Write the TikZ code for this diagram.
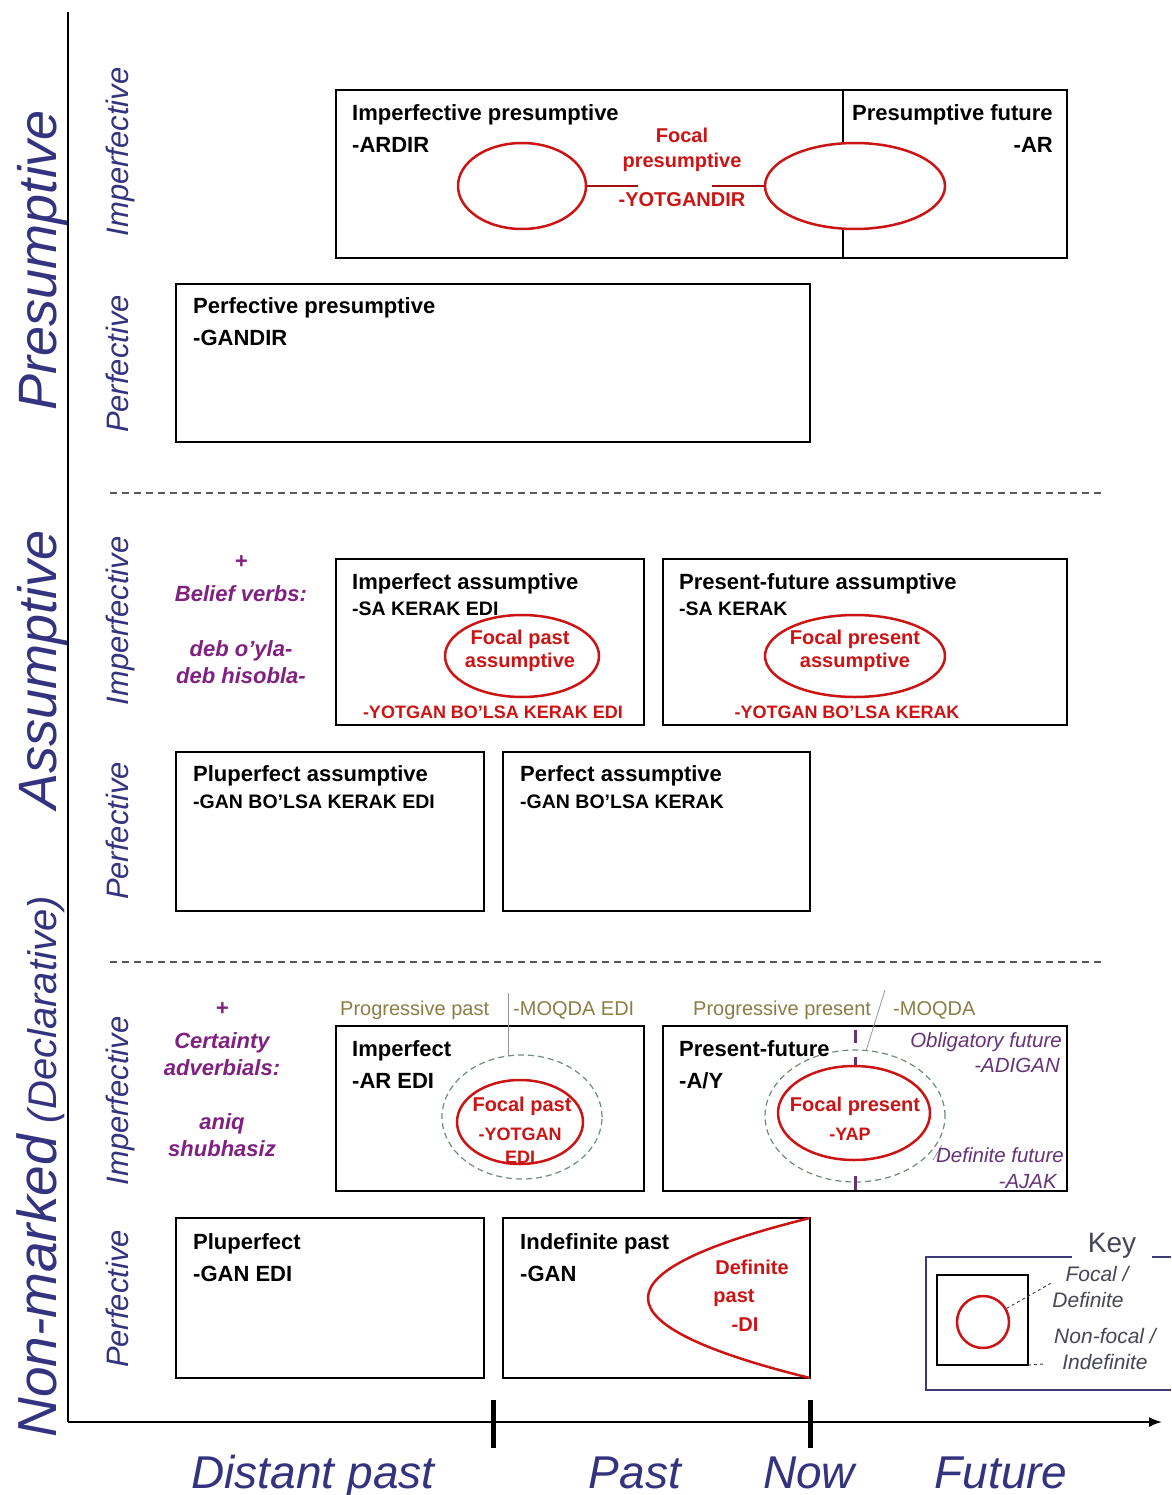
\documentclass[tikz,border=0pt]{standalone}
\usepackage{fontspec}
\setmainfont{Liberation Sans}
\usetikzlibrary{shapes.geometric,arrows.meta}
\definecolor{navy}{RGB}{51,51,128}
\definecolor{myred}{RGB}{204,20,20}
\definecolor{annpurple}{RGB}{128,32,128}
\definecolor{olivetxt}{RGB}{140,125,70}
\definecolor{pitcol}{RGB}{102,51,119}
\definecolor{greendash}{RGB}{110,140,120}
\definecolor{keyblue}{RGB}{60,60,120}
\definecolor{keygray}{RGB}{70,70,85}
\definecolor{leadgray}{RGB}{150,150,150}
\newcommand\myfs[1]{\fontsize{#1}{#1}\selectfont}
\begin{document}
\begin{tikzpicture}[x=1pt,y=-1pt,
  box/.style={draw, line width=1.5pt, inner sep=0, outer sep=0, anchor=north west},
  ttl/.style={anchor=base west, inner sep=0, font=\bfseries\myfs{22}},
  sfx/.style={anchor=base west, inner sep=0, font=\bfseries\myfs{19.5}},
  rtxt/.style={anchor=base, inner sep=0, text=myred, font=\bfseries\myfs{20}},
  rsfx/.style={anchor=base, inner sep=0, text=myred, font=\bfseries\myfs{18}},
  foc/.style={ellipse, draw=myred, line width=2.5pt, fill=white, inner sep=0},
  nfoc/.style={ellipse, draw=greendash, dashed, dash pattern=on 6pt off 4pt, line width=1.2pt, inner sep=0},
  ann/.style={anchor=base, inner sep=0, text=annpurple, font=\bfseries\itshape\myfs{22}},
  oliv/.style={anchor=base west, inner sep=0, text=olivetxt, font=\myfs{20}},
  pit/.style={anchor=base east, inner sep=0, text=pitcol, font=\itshape\myfs{20.5}},
  asp/.style={anchor=base, inner sep=0, rotate=90, text=navy, font=\itshape\myfs{31}},
  big/.style={anchor=base, inner sep=0, rotate=90, text=navy, font=\itshape\myfs{54}},
  timel/.style={anchor=base, inner sep=0, text=navy, font=\itshape\myfs{46}},
  keyt/.style={anchor=base, inner sep=0, text=keygray, font=\itshape\myfs{21}},
  leader/.style={draw=leadgray, line width=0.8pt},
  sepline/.style={draw=gray!70!black, line width=1.2pt, dash pattern=on 7pt off 5pt}
]
\useasboundingbox[fill=white] (0,0) rectangle (1171,1495);

% axes
\coordinate (ytop) at (68,12);
\coordinate (orig) at (68,1422);
\coordinate (xend) at (1162,1422);
\draw[line width=2pt] (ytop) -- (orig);
\draw[line width=2pt, -{Latex[length=13pt,width=10pt]}] (orig) -- (xend);
\coordinate (t1a) at (493,1400); \coordinate (t1b) at (493,1448);
\coordinate (t2a) at (810,1400); \coordinate (t2b) at (810,1448);
\draw[line width=5pt] (t1a) -- (t1b);
\draw[line width=5pt] (t2a) -- (t2b);

% separators
\coordinate (s1a) at (110,493); \coordinate (s1b) at (1105,493);
\coordinate (s2a) at (110,962); \coordinate (s2b) at (1105,962);
\draw[sepline] (s1a) -- (s1b);
\draw[sepline] (s2a) -- (s2b);

% big labels
\node[big] (lpres) at (56,260) {Presumptive};
\node[big] (lass) at (56,670) {Assumptive};
\node[anchor=base, inner sep=0, rotate=90, text=navy, font=\itshape] (lnon) at (56,1167) {{\myfs{55}Non-marked}\hspace{12pt}{\myfs{40}(Declarative)}};

\node[asp] (a1) at (128,152) {Imperfective};
\node[asp] (a2) at (128,364) {Perfective};
\node[asp] (a3) at (128,621) {Imperfective};
\node[asp] (a4) at (128,831) {Perfective};
\node[asp] (a5) at (128,1101) {Imperfective};
\node[asp] (a6) at (128,1299) {Perfective};

% ---------- Presumptive ----------
\node[box, minimum width=731pt, minimum height=168pt] (b1) at (336,90) {};
\coordinate (d1a) at (843,90); \coordinate (d1b) at (843,258);
\draw[line width=1.2pt] (d1a) -- (d1b);
\node[foc, minimum width=128pt, minimum height=86pt] (e1l) at (522,186) {};
\node[foc, minimum width=180pt, minimum height=86pt] (e1r) at (855,186) {};
\draw[myred!80!black, line width=1.5pt] (e1l.east) -- ++(51,0);
\draw[myred!80!black, line width=1.5pt] (e1r.west) -- ++(-52,0);
\node[ttl] (t1) at (352,121) {Imperfective presumptive};
\node[ttl] (t1s) at (352,153) {-ARDIR};
\node[ttl] (t1r) at (852,121) {Presumptive future};
\node[ttl, anchor=base east] (t1rs) at (1053,153) {-AR};
\node[rtxt] (f1a) at (682,143) {Focal};
\node[rtxt] (f1b) at (682,168) {presumptive};
\node[rtxt] (f1c) at (682,207) {-YOTGANDIR};

\node[box, minimum width=634pt, minimum height=158pt] (b2) at (176,284) {};
\node[ttl] (t2) at (193,313) {Perfective presumptive};
\node[ttl] (t2s) at (193,345) {-GANDIR};

% ---------- Assumptive ----------
\node[ann] (p1) at (241,568) {+};
\node[ann] (p1a) at (241,601) {Belief verbs:};
\node[ann] (p1b) at (241,656) {deb o’yla-};
\node[ann] (p1c) at (241,683) {deb hisobla-};

\node[box, minimum width=308pt, minimum height=166pt] (b3) at (336,559) {};
\node[foc, minimum width=154pt, minimum height=82pt] (e3) at (522,656) {};
\node[ttl] (t3) at (352,589) {Imperfect assumptive};
\node[sfx] (t3s) at (352,615) {-SA KERAK EDI};
\node[rtxt] (f3a) at (520,644) {Focal past};
\node[rtxt] (f3b) at (520,667) {assumptive};
\node[rsfx] (f3c) at (493,718) {-YOTGAN BO’LSA KERAK EDI};

\node[box, minimum width=404pt, minimum height=166pt] (b4) at (663,559) {};
\node[foc, minimum width=180pt, minimum height=82pt] (e4) at (855,656) {};
\node[ttl] (t4) at (679,589) {Present-future assumptive};
\node[sfx] (t4s) at (679,615) {-SA KERAK};
\node[rtxt] (f4a) at (855,644) {Focal present};
\node[rtxt] (f4b) at (855,667) {assumptive};
\node[rsfx] (f4c) at (847,718) {-YOTGAN BO’LSA KERAK};

\node[box, minimum width=308pt, minimum height=159pt] (b5) at (176,752) {};
\node[ttl] (t5) at (193,781) {Pluperfect assumptive};
\node[sfx] (t5s) at (193,808) {-GAN BO’LSA KERAK EDI};

\node[box, minimum width=307pt, minimum height=159pt] (b6) at (503,752) {};
\node[ttl] (t6) at (520,781) {Perfect assumptive};
\node[sfx] (t6s) at (520,808) {-GAN BO’LSA KERAK};

% ---------- Non-marked ----------
\node[ann] (p2) at (222,1015) {+};
\node[ann] (p2a) at (222,1048) {Certainty};
\node[ann] (p2b) at (222,1075) {adverbials:};
\node[ann] (p2c) at (222,1129) {aniq};
\node[ann] (p2d) at (222,1156) {shubhasiz};

\node[oliv] (o1) at (340,1015) {Progressive past};
\node[oliv] (o2) at (513,1015) {-MOQDA EDI};
\node[oliv] (o3) at (693,1015) {Progressive present};
\node[oliv] (o4) at (893,1015) {-MOQDA};

\node[box, minimum width=308pt, minimum height=165pt] (b7) at (336,1026) {};
\node[nfoc, minimum width=160pt, minimum height=124pt] (n7) at (522,1117) {};
\node[foc, minimum width=126pt, minimum height=84pt] (e7) at (520,1122) {};
\coordinate (l7) at (508,993);
\draw[leader] (l7) -- (508,1056);
\node[ttl] (t7) at (352,1056) {Imperfect};
\node[ttl] (t7s) at (352,1088) {-AR EDI};
\node[rtxt] (f7a) at (522,1111) {Focal past};
\node[rsfx] (f7b) at (520,1140) {-YOTGAN};
\node[rsfx] (f7c) at (520,1163) {EDI};

\node[box, minimum width=404pt, minimum height=165pt] (b8) at (663,1026) {};
\node[nfoc, minimum width=180pt, minimum height=132pt] (n8) at (855,1116) {};
\draw[pitcol, line width=3pt] (855,1030) -- (855,1043);
\draw[pitcol, line width=3pt] (855,1057) -- (855,1068);
\draw[pitcol, line width=3pt] (855,1176) -- (855,1190);
\node[foc, minimum width=152pt, minimum height=94pt] (e8) at (854,1113) {};
\coordinate (l8) at (885,990);
\draw[leader] (l8) -- (866,1051);
\coordinate (l9) at (933,1160);
\draw[leader] (l9) -- (942,1145);
\node[ttl] (t8) at (679,1056) {Present-future};
\node[ttl] (t8s) at (679,1088) {-A/Y};
\node[rtxt] (f8a) at (855,1111) {Focal present};
\node[rsfx] (f8b) at (850,1140) {-YAP};
\node[pit] (g1) at (1062,1047) {Obligatory future};
\node[pit] (g2) at (1060,1072) {-ADIGAN};
\node[pit] (g3) at (1064,1162) {Definite future};
\node[pit] (g4) at (1057,1188) {-AJAK};

\node[box, minimum width=308pt, minimum height=160pt] (b9) at (176,1218) {};
\node[ttl] (t9) at (193,1249) {Pluperfect};
\node[ttl] (t9s) at (193,1281) {-GAN EDI};

\node[box, minimum width=307pt, minimum height=160pt] (b10) at (503,1218) {};
\draw[myred, line width=2.5pt] (b10.north east) .. controls (594,1271.3) and (594,1324.7) .. (b10.south east);
\node[ttl] (t10) at (520,1249) {Indefinite past};
\node[ttl] (t10s) at (520,1281) {-GAN};
\node[rtxt] (f10a) at (752,1274) {Definite};
\node[rtxt] (f10b) at (734,1302) {past};
\node[rtxt] (f10c) at (745,1331) {-DI};

% ---------- Key ----------
\coordinate (k1) at (1072,1257);
\coordinate (k2) at (926,1257);
\coordinate (k3) at (926,1390);
\coordinate (k4) at (1171,1390);
\coordinate (k5) at (1152,1257);
\coordinate (k6) at (1171,1257);
\draw[keyblue, line width=2pt] (k1) -- (k2) -- (k3) -- (k4);
\draw[keyblue, line width=2pt] (k5) -- (k6);
\node[anchor=base, inner sep=0, text=keygray, font=\myfs{28}] (keyl) at (1112,1252) {Key};
\node[box, line width=1.2pt, minimum width=91pt, minimum height=90pt] (kb) at (937,1275) {};
\node[circle, draw=myred, line width=2.5pt, fill=white, inner sep=0, minimum size=52pt] (kc) at (983,1322) {};
\node[keyt] (kt1) at (1097,1281) {Focal /};
\node[keyt] (kt2) at (1088,1307) {Definite};
\node[keyt] (kt3) at (1105,1343) {Non-focal /};
\node[keyt] (kt4) at (1105,1369) {Indefinite};
\coordinate (kl1) at (1053,1282);
\coordinate (kl2) at (1044,1364);
\draw[keygray, line width=1pt, dashed] (kc.30) -- (kl1);
\draw[keygray, line width=1pt, dashed] (kb.south east) -- (kl2);

% time labels
\node[timel] (tm1) at (313,1488) {Distant past};
\node[timel] (tm2) at (635,1488) {Past};
\node[timel] (tm3) at (809,1488) {Now};
\node[timel] (tm4) at (1001,1488) {Future};
\end{tikzpicture}
\end{document}
